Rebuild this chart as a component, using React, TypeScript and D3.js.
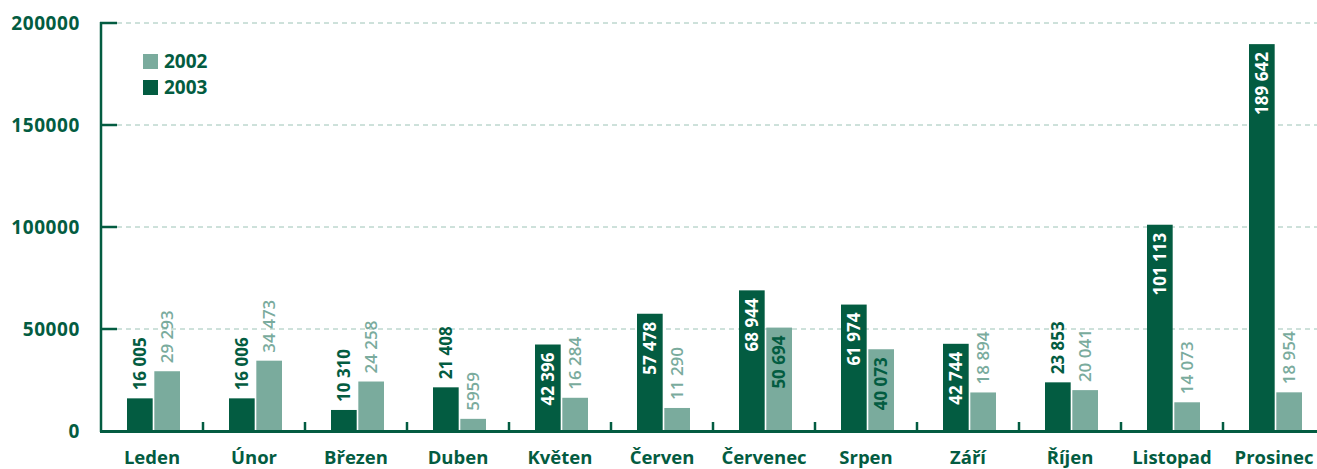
import React from 'react';
import * as d3 from 'd3';

// měsíce a hodnoty
const months = ['Leden', 'Únor', 'Březen', 'Duben', 'Květen', 'Červen', 'Červenec', 'Srpen', 'Září', 'Říjen', 'Listopad', 'Prosinec'];
const values2003 = [16005, 16006, 10310, 21408, 42396, 57478, 68944, 61974, 42744, 23853, 101113, 189642];
const values2002 = [29293, 34473, 24258, 5959, 16284, 11290, 50694, 40073, 18894, 20041, 14073, 18954];
const yTicks = [0, 50000, 100000, 150000, 200000];
const seriesKeys = ['2003', '2002'];
const legendKeys = ['2002', '2003'];

const DARK = '#035c41';
const LIGHT = '#7aab9d';
const GRID = '#9cc3b6';
const FONT = '"Open Sans", "DejaVu Sans", sans-serif';

const W = 1317;
const H = 469;

// 16 005, ale 5959
const fmt = (v: number) => (v >= 10000 ? d3.format(',')(v).replace(/,/g, ' ') : String(v));

export default function App() {
  const x = d3.scaleBand<string>().domain(months).range([101, 101 + 12 * 102]);
  const xSub = d3.scaleBand<string>().domain(seriesKeys).range([26, 79]).paddingInner(0.06);
  const y = d3.scaleLinear().domain([0, 200000]).range([431, 23]);
  const colors: Record<string, string> = { '2003': DARK, '2002': LIGHT };
  const bw = xSub.bandwidth();

  return (
    <svg width={W} height={H} style={{ position: 'absolute', left: 0, top: 0 }} fontFamily={FONT}>
      {/* mřížka */}
      {yTicks.filter((t) => t > 0).map((t) => (
        <line key={'g' + t} x1={117} x2={W} y1={y(t)} y2={y(t)} stroke={GRID} strokeWidth={1} strokeDasharray="5,4" />
      ))}

      {/* sloupce */}
      {months.map((m, i) =>
        seriesKeys.map((k) => {
          const v = k === '2003' ? values2003[i] : values2002[i];
          const bx = (x(m) as number) + (xSub(k) as number);
          const top = y(v);
          const h = y(0) - top;
          const inside = h > 75;
          const cx = bx + bw / 2;
          let fill: string;
          if (inside) fill = k === '2003' ? '#ffffff' : DARK;
          else fill = colors[k];
          const ty = inside ? top + 8 : top - 8;
          return (
            <g key={m + k}>
              <rect x={bx} y={top} width={bw} height={h} fill={colors[k]} />
              <text
                transform={`translate(${cx},${ty}) rotate(-90)`}
                textAnchor={inside ? 'end' : 'start'}
                dy="0.36em"
                fontSize={17}
                fontWeight={k === '2002' && !inside ? 600 : 700}
                fill={fill}
              >
                {fmt(v)}
              </text>
            </g>
          );
        })
      )}

      {/* osa y */}
      <line x1={101} x2={101} y1={22} y2={432} stroke={DARK} strokeWidth={2.5} />
      {yTicks.map((t) => (
        <g key={'t' + t}>
          {t > 0 && <line x1={100} x2={117} y1={y(t)} y2={y(t)} stroke={DARK} strokeWidth={2.5} />}
          <text x={80} y={y(t)} dy="0.36em" textAnchor="end" fontSize={19} fontWeight={700} fill={DARK} letterSpacing={0.6}>
            {t}
          </text>
        </g>
      ))}

      {/* osa x */}
      <line x1={100} x2={W} y1={431.5} y2={431.5} stroke={DARK} strokeWidth={3} />
      {months.slice(1).map((m) => (
        <line key={'xt' + m} x1={x(m) as number} x2={x(m) as number} y1={422} y2={431} stroke={DARK} strokeWidth={2.5} />
      ))}
      {months.map((m) => (
        <text key={'xl' + m} x={(x(m) as number) + 51} y={463.5} textAnchor="middle" fontSize={18.5} fontWeight={700} fill={DARK}>
          {m}
        </text>
      ))}

      {/* legenda */}
      {legendKeys.map((k, i) => (
        <g key={'lg' + k} transform={`translate(143,${54 + i * 26})`}>
          <rect width={15} height={15} fill={colors[k]} />
          <text x={21} y={7.5} dy="0.36em" fontSize={19} fontWeight={700} fill={DARK}>
            {k}
          </text>
        </g>
      ))}
    </svg>
  );
}
